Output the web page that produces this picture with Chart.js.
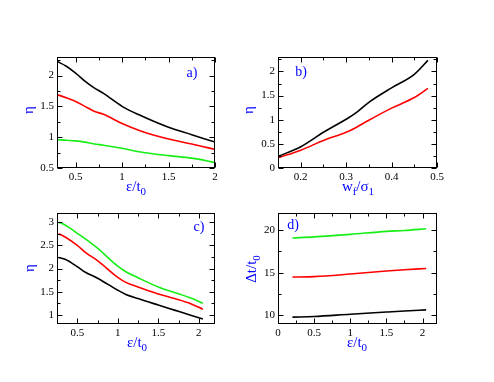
<!DOCTYPE html>
<html>
<head>
<meta charset="utf-8">
<script src="https://cdn.jsdelivr.net/npm/chart.js@4.4.1/dist/chart.umd.min.js"></script>
<style>
  body { margin: 0; background: #fff; }
  #wrap { position: relative; width: 494px; height: 382px; }
  #wrap canvas { position: absolute; left: 0; top: 0; }
</style>
</head>
<body>
<div id="wrap">
  <canvas id="pa" width="494" height="382"></canvas>
  <canvas id="pb" width="494" height="382"></canvas>
  <canvas id="pc" width="494" height="382"></canvas>
  <canvas id="pd" width="494" height="382"></canvas>
</div>
<script>
// panel a) eta vs eps/t0
const aX = [0.3, 0.4, 0.5, 0.6, 0.7, 0.8, 1.0, 1.2, 1.5, 1.75, 2.0];
const aBlack = [2.23, 2.15, 2.04, 1.91, 1.80, 1.71, 1.50, 1.35, 1.16, 1.04, 0.92];
const aRed = [1.69, 1.64, 1.58, 1.50, 1.42, 1.37, 1.22, 1.10, 0.97, 0.89, 0.80];
const aGreen = [0.96, 0.95, 0.94, 0.92, 0.89, 0.87, 0.82, 0.76, 0.70, 0.66, 0.59];
const aXTicks = [0.5, 1, 1.5, 2];
const aYTicks = [0.5, 1, 1.5, 2];

// panel b) eta vs w_f/sigma_1
const bX = [0.15, 0.2, 0.25, 0.3, 0.32, 0.35, 0.4, 0.45, 0.48];
const bBlack = [0.24, 0.44, 0.74, 1.01, 1.13, 1.36, 1.66, 1.94, 2.23];
const bRed = [0.21, 0.37, 0.57, 0.74, 0.83, 0.99, 1.24, 1.46, 1.65];
const bXTicks = [0.2, 0.3, 0.4, 0.5];
const bYTicks = [0, 0.5, 1, 1.5, 2];

// panel c) eta vs eps/t0
const cX = [0.27, 0.35, 0.5, 0.6, 0.75, 1.0, 1.1, 1.25, 1.5, 1.7, 1.9, 2.05];
const cGreen = [3.0, 2.94, 2.76, 2.64, 2.44, 2.05, 1.93, 1.80, 1.60, 1.48, 1.36, 1.25];
const cRed = [2.75, 2.68, 2.50, 2.35, 2.17, 1.81, 1.70, 1.60, 1.45, 1.35, 1.24, 1.12];
const cBlack = [2.24, 2.20, 2.04, 1.92, 1.79, 1.53, 1.44, 1.35, 1.21, 1.10, 0.99, 0.91];
const cXTicks = [0.5, 1, 1.5, 2];
const cYTicks = [1, 1.5, 2, 2.5, 3];

// panel d) delta t / t0 vs eps/t0
const dX = [0.2, 0.5, 1.0, 1.5, 1.75, 2.05];
const dGreen = [19.07, 19.2, 19.5, 19.85, 19.95, 20.15];
const dRed = [14.5, 14.55, 14.85, 15.2, 15.35, 15.5];
const dBlack = [9.8, 9.88, 10.15, 10.4, 10.52, 10.65];
const dXTicks = [0, 0.5, 1, 1.5, 2];
const dYTicks = [10, 15, 20];

const BLACK = '#000000', RED = '#ff0000', GREEN = '#16ee16', BLUE = '#0000ff';
const SERIF = '"Liberation Serif", "Times New Roman", serif';
const W = 494, H = 382, YW = 30, XH = 20;

// frame round the plot area with inward major/minor ticks on all four sides
const framePlugin = {
  id: 'frame',
  afterDatasetsDraw(chart) {
    const { ctx, chartArea: a, scales } = chart;
    const L = Math.round(a.left) + 0.5, R = Math.round(a.right) - 0.5;
    const T = Math.round(a.top) + 0.5, B = Math.round(a.bottom) - 0.5;
    ctx.save();
    ctx.strokeStyle = '#000';
    ctx.lineWidth = 1;
    ctx.strokeRect(L, T, R - L, B - T);
    ctx.beginPath();
    const marks = (scale) => {
      const vals = scale.ticks.map(t => t.value);
      const step = vals[1] - vals[0];
      const out = vals.map(v => [v, 5]);
      for (let v = vals[0] - step / 2; v <= scale.max + 1e-9; v += step) {
        if (v >= scale.min - 1e-9) out.push([v, 3]);
      }
      return out;
    };
    marks(scales.x).forEach(([v, len]) => {
      const p = Math.round(scales.x.getPixelForValue(v)) + 0.5;
      ctx.moveTo(p, B); ctx.lineTo(p, B - len);
      ctx.moveTo(p, T); ctx.lineTo(p, T + len);
    });
    marks(scales.y).forEach(([v, len]) => {
      const p = Math.round(scales.y.getPixelForValue(v)) + 0.5;
      ctx.moveTo(L, p); ctx.lineTo(L + len, p);
      ctx.moveTo(R, p); ctx.lineTo(R - len, p);
    });
    ctx.stroke();
    ctx.restore();
  }
};

// draws text made of normal and subscript parts, centred on (cx, cy)
function drawParts(ctx, parts, cx, cy, rotate) {
  ctx.save();
  ctx.translate(cx, cy);
  if (rotate) ctx.rotate(-Math.PI / 2);
  ctx.fillStyle = BLUE;
  ctx.textAlign = 'left';
  ctx.textBaseline = 'alphabetic';
  const big = '15px ' + SERIF, small = '11px ' + SERIF;
  let w = 0;
  parts.forEach(p => { ctx.font = p[1] ? small : big; w += ctx.measureText(p[0]).width; });
  let x = -w / 2;
  parts.forEach(p => {
    ctx.font = p[1] ? small : big;
    ctx.fillText(p[0], x, p[1] ? 8 : 4);
    x += ctx.measureText(p[0]).width;
  });
  ctx.restore();
}

const labelPlugin = {
  id: 'labels',
  afterDraw(chart, args, opts) {
    const ctx = chart.ctx;
    drawParts(ctx, opts.xTitle, opts.xPos[0], opts.xPos[1], false);
    drawParts(ctx, opts.yTitle, opts.yPos[0], opts.yPos[1], true);
    ctx.save();
    ctx.fillStyle = BLUE;
    ctx.font = '14px ' + SERIF;
    ctx.textAlign = 'center';
    ctx.textBaseline = 'middle';
    ctx.fillText(opts.tag, opts.tagPos[0], opts.tagPos[1]);
    ctx.restore();
  }
};

function pts(xs, ys) {
  return xs.map((x, i) => ({ x: x, y: ys[i] }));
}

function axis(min, max, ticks, isX) {
  return {
    type: 'linear',
    min: min,
    max: max,
    grid: { display: false, drawTicks: false },
    border: { display: false },
    afterBuildTicks: s => { s.ticks = ticks.map(v => ({ value: v })); },
    afterFit: s => { if (isX) s.height = XH; else s.width = YW; },
    ticks: {
      color: '#000',
      padding: 3,
      maxRotation: 0,
      autoSkip: false,
      font: { family: SERIF, size: 11 },
      callback: v => String(v)
    }
  };
}

function makePanel(id, box, series, xAxis, yAxis, labels) {
  new Chart(document.getElementById(id), {
    type: 'line',
    data: {
      datasets: series.map(s => ({
        data: s.data,
        borderColor: s.color,
        borderWidth: 1.6,
        pointRadius: 0,
        fill: false,
        cubicInterpolationMode: 'monotone'
      }))
    },
    options: {
      responsive: false,
      animation: false,
      devicePixelRatio: 1,
      layout: {
        padding: { left: box[0] - YW, top: box[1], right: W - box[2], bottom: H - box[3] - XH }
      },
      scales: { x: xAxis, y: yAxis },
      plugins: { legend: { display: false }, tooltip: { enabled: false }, labels: labels }
    },
    plugins: [framePlugin, labelPlugin]
  });
}

const epsTitle = [['\u03b5/t', false], ['0', true]];
const etaTitle = [['\u03b7', false]];

makePanel('pa', [57, 57, 215, 168],
  [{ data: pts(aX, aBlack), color: BLACK }, { data: pts(aX, aRed), color: RED }, { data: pts(aX, aGreen), color: GREEN }],
  axis(0.3, 2, aXTicks, true), axis(0.5, 2.3, aYTicks, false),
  { xTitle: epsTitle, xPos: [136, 187], yTitle: etaTitle, yPos: [29, 110], tag: 'a)', tagPos: [192, 73] });

makePanel('pb', [278, 57, 437, 168],
  [{ data: pts(bX, bBlack), color: BLACK }, { data: pts(bX, bRed), color: RED }],
  axis(0.15, 0.5, bXTicks, true), axis(0, 2.3, bYTicks, false),
  { xTitle: [['w', false], ['f', true], ['/\u03c3', false], ['1', true]], xPos: [358, 187],
    yTitle: etaTitle, yPos: [249, 110], tag: 'b)', tagPos: [301, 72] });

makePanel('pc', [57, 213, 215, 324],
  [{ data: pts(cX, cBlack), color: BLACK }, { data: pts(cX, cRed), color: RED }, { data: pts(cX, cGreen), color: GREEN }],
  axis(0.25, 2.2, cXTicks, true), axis(0.8, 3.2, cYTicks, false),
  { xTitle: epsTitle, xPos: [137, 343], yTitle: etaTitle, yPos: [30, 268], tag: 'c)', tagPos: [199, 227] });

makePanel('pd', [278, 213, 437, 324],
  [{ data: pts(dX, dBlack), color: BLACK }, { data: pts(dX, dRed), color: RED }, { data: pts(dX, dGreen), color: GREEN }],
  axis(0, 2.2, dXTicks, true), axis(9, 22, dYTicks, false),
  { xTitle: epsTitle, xPos: [357, 343], yTitle: [['\u0394t/t', false], ['0', true]], yPos: [252, 269],
    tag: 'd)', tagPos: [293, 225] });
</script>
</body>
</html>
